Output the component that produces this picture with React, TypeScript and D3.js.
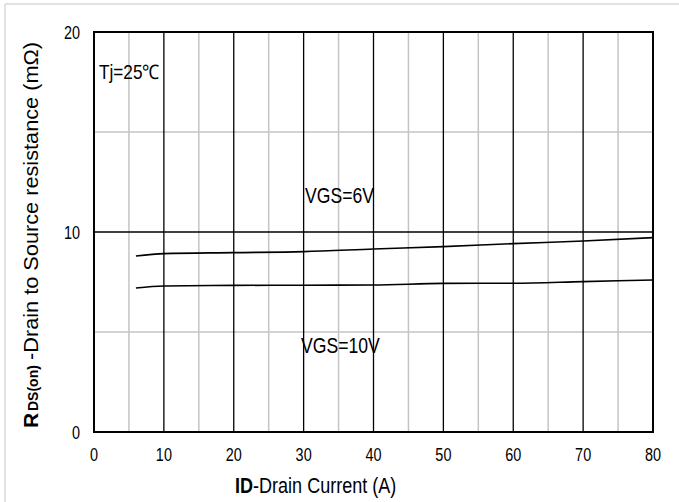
import React from "react";
import * as d3 from "d3";

const currentA = [6, 10, 20, 30, 40, 50, 60, 70, 80];
const rds6V = [8.8, 8.92, 8.97, 9.02, 9.15, 9.27, 9.42, 9.55, 9.72];
const rds10V = [7.2, 7.3, 7.33, 7.34, 7.35, 7.43, 7.44, 7.52, 7.6];
const xTicks = [0, 10, 20, 30, 40, 50, 60, 70, 80];
const xMinor = [5, 15, 25, 35, 45, 55, 65, 75];
const yTicks = [0, 10, 20];
const yMinor = [5, 15];
const seriesLabels = ["VGS=6V", "VGS=10V"];

const W = 679;
const H = 502;
const FONT = "'Liberation Sans', Arial, sans-serif";

function Txt(props: { x: number; y: number; sx?: number; size: number; anchor?: string; weight?: string; children: any }) {
  const { x, y, sx = 0.85, size, anchor = "start", weight = "normal", children } = props;
  return (
    <text
      transform={`translate(${x},${y}) scale(${sx},1)`}
      fontSize={size}
      fontFamily={FONT}
      textAnchor={anchor}
      fontWeight={weight}
      fill="#000"
    >
      {children}
    </text>
  );
}

export default function App() {
  const x = d3.scaleLinear().domain([0, 80]).range([94, 653]);
  const y = d3.scaleLinear().domain([0, 20]).range([432, 32]);
  const line = d3
    .line<number>()
    .x((_, i) => x(currentA[i]))
    .y((d) => y(d))
    .curve(d3.curveMonotoneX);

  return (
    <svg
      width={W}
      height={H}
      style={{ position: "absolute", left: 0, top: 0, background: "#fff" }}
    >
      <rect x={0} y={0} width={W} height={H} fill="#fff" />
      {/* outer light frame */}
      <line x1={5} x2={5} y1={4} y2={H} stroke="#d9d9d9" strokeWidth={1.5} />
      <line x1={5} x2={W} y1={4} y2={4} stroke="#d9d9d9" strokeWidth={1.5} />

      {/* minor gridlines */}
      {xMinor.map((v) => (
        <line key={"xm" + v} x1={x(v)} x2={x(v)} y1={y(20)} y2={y(0)} stroke="#c4c4c4" strokeWidth={1.5} />
      ))}
      {yMinor.map((v) => (
        <line key={"ym" + v} x1={x(0)} x2={x(80)} y1={y(v)} y2={y(v)} stroke="#c4c4c4" strokeWidth={1.5} />
      ))}
      {/* major gridlines */}
      {xTicks.map((v) => (
        <line key={"xM" + v} x1={x(v)} x2={x(v)} y1={y(20)} y2={y(0)} stroke="#000" strokeWidth={1.3} />
      ))}
      {yTicks.map((v) => (
        <line key={"yM" + v} x1={x(0)} x2={x(80)} y1={y(v)} y2={y(v)} stroke="#000" strokeWidth={1.3} />
      ))}
      {/* frame */}
      <rect x={x(0)} y={y(20)} width={x(80) - x(0)} height={y(0) - y(20)} fill="none" stroke="#000" strokeWidth={2} />

      {/* curves */}
      <path d={line(rds6V) || ""} fill="none" stroke="#000" strokeWidth={1.6} />
      <path d={line(rds10V) || ""} fill="none" stroke="#000" strokeWidth={1.6} />

      {/* tick labels */}
      {xTicks.map((v) => (
        <Txt key={"xl" + v} x={x(v)} y={461} size={19} sx={0.76} anchor="middle">
          {v}
        </Txt>
      ))}
      {yTicks.map((v) => (
        <Txt key={"yl" + v} x={80} y={y(v) + 6.5} size={19} sx={0.76} anchor="end">
          {v}
        </Txt>
      ))}

      {/* annotations */}
      <Txt x={99} y={78.5} size={20} sx={0.86}>Tj=25℃</Txt>
      <Txt x={305} y={203} size={22} sx={0.8}>{seriesLabels[0]}</Txt>
      <Txt x={301} y={353} size={22} sx={0.8}>{seriesLabels[1]}</Txt>

      {/* x axis title */}
      <text transform="translate(235,493) scale(0.82,1)" fontSize={22} fontFamily={FONT} fill="#000">
        <tspan fontWeight="bold">ID</tspan>
        <tspan>-Drain Current (A)</tspan>
      </text>

      {/* y axis title */}
      <g transform="translate(38,428) rotate(-90)">
        <text x={0} y={0} fontSize={21} fontFamily={FONT} fontWeight="bold" fill="#000">
          R
        </text>
        <text x={17} y={0} fontSize={14} fontFamily={FONT} fontWeight="bold" fill="#000">
          DS(on)
        </text>
        <text
          x={68}
          y={0}
          fontSize={21}
          fontFamily={FONT}
          fill="#000"
          textLength={318}
          lengthAdjust="spacingAndGlyphs"
        >
          -Drain to Source resistance (mΩ)
        </text>
      </g>
    </svg>
  );
}
